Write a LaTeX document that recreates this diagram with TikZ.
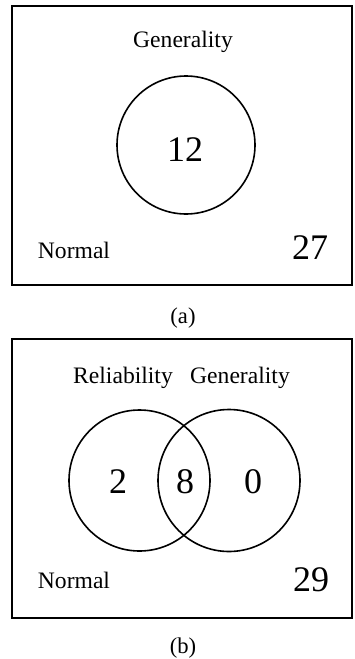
\documentclass[tikz,border=0pt]{standalone}
\usepackage{fontspec}
\setmainfont{Liberation Serif}
\usepackage{tikz}

\begin{document}
\begin{tikzpicture}[
  x=0.5pt, y=-0.5pt,
  frame/.style={draw, line width=1pt},
  set/.style={draw, circle, line width=0.8pt, inner sep=0pt},
  lbl/.style={font=\fontsize{11.8}{13}\selectfont, inner sep=0pt},
  num/.style={font=\fontsize{18}{20}\selectfont, inner sep=0pt},
  sublabel/.style={font=\fontsize{11.3}{13}\selectfont, inner sep=0pt}]
  \useasboundingbox (0,0) rectangle (354,659);
  % (a)
  \draw[frame] (12,6) rectangle (352,285);
  \node[lbl] (genA) at (183,42) {Generality};
  \node[set, minimum size=69pt] (cGenA) at (186,145) {};
  \node[num] (nGenA) at (185,150) {12};
  \node[lbl] (normA) at (74,250) {Normal};
  \node[num] (nNormA) at (310,248) {27};
  \node[sublabel] (subA) at (183,318) {(a)};
  % (b)
  \draw[frame] (12,339) rectangle (352,618);
  \node[lbl] (relB) at (123,378) {Reliability};
  \node[lbl] (genB) at (240,378) {Generality};
  \node[set, minimum size=70.5pt] (cRelB) at (139.5,480.5) {};
  \node[set, minimum size=71pt] (cGenB) at (229,480.5) {};
  \node[num] (nRelB) at (118,482) {2};
  \node[num] (nBothB) at (185,482) {8};
  \node[num] (nGenB) at (253,482) {0};
  \node[lbl] (normB) at (74,580) {Normal};
  \node[num] (nNormB) at (311,580) {29};
  \node[sublabel] (subB) at (183,648) {(b)};
\end{tikzpicture}
\end{document}
